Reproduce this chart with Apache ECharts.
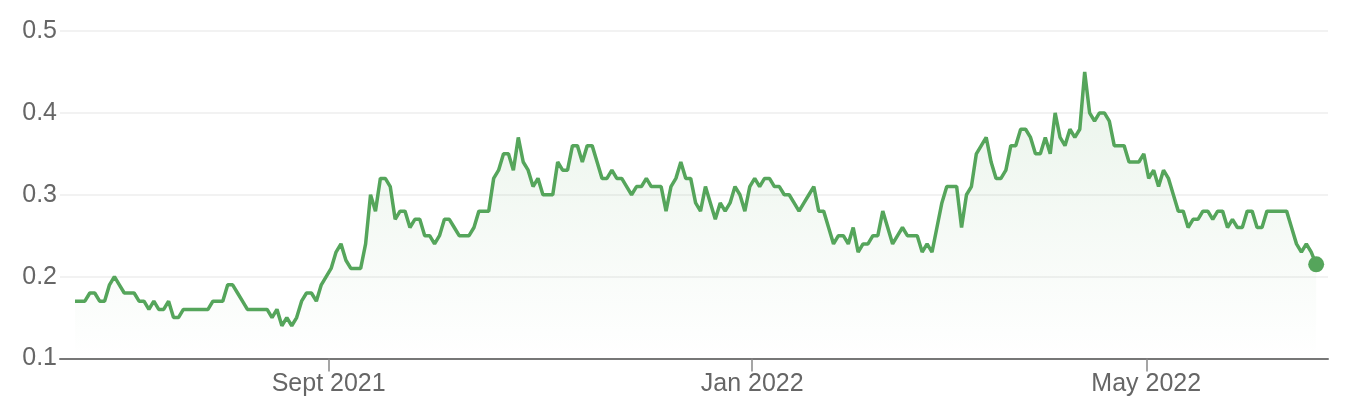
<!DOCTYPE html>
<html><head><meta charset="utf-8">
<script src="https://cdn.jsdelivr.net/npm/echarts@6/dist/echarts.min.js"></script>
<style>html,body{margin:0;padding:0;background:#fff}#c{width:1362px;height:418px}</style>
</head><body><div id="c"></div>
<script>
// Trading calendar (categories): weekdays between these dates, minus exchange holidays
const startDate = '2021-06-21';
const endDate = '2022-06-20';
const holidays = ['2021-12-27','2021-12-28','2022-01-03','2022-01-26','2022-04-15','2022-04-18','2022-04-25','2022-06-13'];

// Closing values, one per trading day
const prices = [
  0.17,0.17,0.17,0.18,0.18,0.17,0.17,0.19,0.20,0.19,
  0.18,0.18,0.18,0.17,0.17,0.16,0.17,0.16,0.16,0.17,
  0.15,0.15,0.16,0.16,0.16,0.16,0.16,0.16,0.17,0.17,
  0.17,0.19,0.19,0.18,0.17,0.16,0.16,0.16,0.16,0.16,
  0.15,0.16,0.14,0.15,0.14,0.15,0.17,0.18,0.18,0.17,
  0.19,0.20,0.21,0.23,0.24,0.22,0.21,0.21,0.21,0.24,
  0.30,0.28,0.32,
  0.32,0.31,0.27,0.28,0.28,0.26,0.27,0.27,0.25,0.25,
  0.24,0.25,0.27,0.27,0.26,0.25,0.25,0.25,0.26,0.28,
  0.28,0.28,0.32,0.33,0.35,0.35,0.33,0.37,0.34,0.33,
  0.31,0.32,0.30,0.30,0.30,0.34,0.33,0.33,0.36,0.36,
  0.34,0.36,0.36,0.34,0.32,0.32,0.33,0.32,0.32,0.31,
  0.30,0.31,0.31,0.32,0.31,0.31,0.31,0.28,0.31,0.32,
  0.34,0.32,0.32,
  0.29,0.28,0.31,0.29,0.27,0.29,0.28,0.29,0.31,0.30,
  0.28,0.31,0.32,0.31,0.32,0.32,0.31,0.31,0.30,0.30,
  0.29,0.28,0.29,0.30,0.31,0.28,0.28,0.26,0.24,0.25,
  0.25,0.24,0.26,0.23,0.24,0.24,0.25,0.25,0.28,0.26,
  0.24,0.25,0.26,0.25,0.25,0.25,0.23,0.24,0.23,0.26,
  0.29,0.31,0.31,0.31,0.26,0.30,0.31,0.35,0.36,0.37,
  0.34,0.32,0.32,
  0.33,0.36,0.36,0.38,0.38,0.37,0.35,0.35,0.37,0.35,
  0.40,0.37,0.36,0.38,0.37,0.38,0.45,0.40,0.39,0.40,
  0.40,0.39,0.36,0.36,0.36,0.34,0.34,0.34,0.35,0.32,
  0.33,0.31,0.33,0.32,0.30,0.28,0.28,0.26,0.27,0.27,
  0.28,0.28,0.27,0.28,0.28,0.26,0.27,0.26,0.26,0.28,
  0.28,0.26,0.26,0.28,0.28,0.28,0.28,0.28,0.26,0.24,
  0.23,0.24,0.23,0.215
];

const yTicks = [0.1, 0.2, 0.3, 0.4, 0.5];
const xTickDates = ['2021-09-01', '2022-01-04', '2022-05-02'];
const xTickLabels = ['Sept 2021', 'Jan 2022', 'May 2022'];

function buildDates() {
  const out = [];
  const d = new Date(startDate + 'T00:00:00Z');
  const end = new Date(endDate + 'T00:00:00Z');
  while (d <= end) {
    const s = d.toISOString().slice(0, 10);
    const wd = d.getUTCDay();
    if (wd !== 0 && wd !== 6 && holidays.indexOf(s) < 0) out.push(s);
    d.setUTCDate(d.getUTCDate() + 1);
  }
  return out;
}
const dates = buildDates();
const seriesData = prices.map((v, i) => [i, v]);
const last = seriesData[seriesData.length - 1];
// month boundary sits between the last day of the previous month and the first trading day
const tickPos = xTickDates.map(d => dates.indexOf(d) - 0.5);
function labelFor(v) {
  for (let i = 0; i < tickPos.length; i++) if (Math.abs(v - tickPos[i]) < 1e-6) return xTickLabels[i];
  return '';
}

const GREEN = '#55a55b';
const FONT = 'Liberation Sans, Arial, sans-serif';
const chart = echarts.init(document.getElementById('c'), null, { renderer: 'canvas' });
chart.setOption({
  animation: false,
  backgroundColor: '#ffffff',
  grid: { left: 60, right: 34, top: 31, bottom: 59.5, containLabel: false },
  xAxis: {
    type: 'value',
    min: -3.05,
    max: prices.length - 1 + 2.4,
    splitLine: { show: false },
    axisLine: { show: true, lineStyle: { color: '#777777', width: 2 } },
    axisTick: { show: true, customValues: tickPos, length: 13, lineStyle: { color: '#888888', width: 1.5 } },
    axisLabel: {
      show: true, customValues: tickPos, formatter: labelFor,
      color: '#666666', fontSize: 25, fontFamily: FONT, margin: 13
    }
  },
  yAxis: {
    type: 'value',
    min: yTicks[0],
    max: yTicks[yTicks.length - 1],
    interval: 0.1,
    axisLine: { show: false },
    axisTick: { show: false },
    splitLine: { show: true, lineStyle: { color: '#f2f2f2', width: 2 } },
    axisLabel: {
      color: '#666666', fontSize: 25, fontFamily: FONT, margin: 3,
      formatter: v => v.toFixed(1)
    }
  },
  series: [
    {
      type: 'line',
      data: seriesData,
      showSymbol: false,
      lineStyle: { color: GREEN, width: 3.5 },
      itemStyle: { color: GREEN },
      areaStyle: {
        color: new echarts.graphic.LinearGradient(0, 0, 0, 1, [
          { offset: 0, color: 'rgba(85,165,91,0.18)' },
          { offset: 1, color: 'rgba(85,165,91,0.0)' }
        ])
      }
    },
    {
      type: 'scatter',
      data: [last],
      symbol: 'circle',
      symbolSize: 16,
      itemStyle: { color: GREEN, opacity: 1 },
      z: 5
    }
  ]
});
</script></body></html>
